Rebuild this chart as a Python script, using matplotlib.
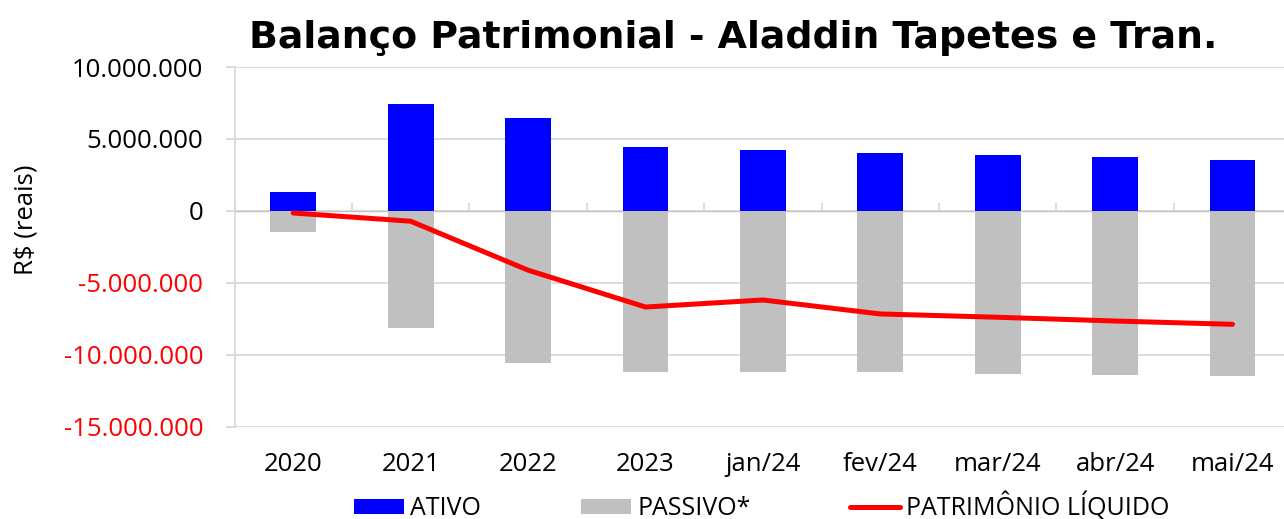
import numpy as np
import matplotlib.pyplot as plt
from matplotlib.ticker import FuncFormatter, MultipleLocator

periodos = ["2020", "2021", "2022", "2023", "jan/24", "fev/24", "mar/24", "abr/24", "mai/24"]
ativo = [1.30e6, 7.41e6, 6.47e6, 4.46e6, 4.25e6, 4.04e6, 3.90e6, 3.72e6, 3.53e6]
passivo = [-1.47e6, -8.10e6, -10.55e6, -11.15e6, -11.19e6, -11.19e6, -11.31e6, -11.38e6, -11.45e6]
patrimonio = [-0.14e6, -0.71e6, -4.11e6, -6.67e6, -6.18e6, -7.15e6, -7.38e6, -7.64e6, -7.87e6]

grid_cor = "#d9d9d9"
fonte = ["Open Sans", "DejaVu Sans"]
plt.rcParams["font.family"] = fonte

fig = plt.figure(figsize=(12.84, 5.19), dpi=100)
ax = fig.add_axes([0.1827, 0.1773, 0.8229, 0.6936])

x = np.arange(len(periodos))
b1 = ax.bar(x, ativo, width=0.39, color="#0000ff", label="ATIVO", zorder=2)
b2 = ax.bar(x, passivo, width=0.39, color="#c0c0c0", label="PASSIVO*", zorder=2)
l1, = ax.plot(x, patrimonio, color="#ff0000", lw=3.6, solid_capstyle="round",
              solid_joinstyle="round", label="PATRIMÔNIO LÍQUIDO", zorder=3)

ax.set_xlim(-0.5, len(periodos) - 0.5)
ax.set_ylim(-15e6, 10e6)
ax.yaxis.set_major_locator(MultipleLocator(5e6))
ax.yaxis.set_major_formatter(FuncFormatter(lambda v, p: f"{v:,.0f}".replace(",", ".")))
ax.grid(axis="y", color=grid_cor, lw=1.3, zorder=0)
ax.set_axisbelow(True)

for s in ["top", "right", "bottom"]:
    ax.spines[s].set_visible(False)
ax.spines["left"].set_color(grid_cor)
ax.spines["left"].set_linewidth(1.3)

ax.tick_params(axis="y", colors=grid_cor, length=6.5, width=1.3, pad=16,
               labelsize=18.5, labelcolor="black")
for lab, v in zip(ax.get_yticklabels(), ax.get_yticks()):
    if v < 0:
        lab.set_color("#ff0000")

ax.set_xticks(x)
ax.set_xticklabels(periodos)
ax.tick_params(axis="x", length=0, pad=18, labelsize=18.5)

# eixo de categorias na linha do zero, com marcas entre as categorias
zero = ax.secondary_xaxis(15 / 25)
zero.set_xticks(np.arange(len(periodos) + 1) - 0.5)
zero.tick_params(axis="x", direction="out", length=6, width=1.3, colors=grid_cor,
                 labelbottom=False, labeltop=False)
zero.spines["bottom"].set_color(grid_cor)
zero.spines["bottom"].set_linewidth(1.3)

fig.text(26 / 1284, 1 - 220 / 519, "R$ (reais)", rotation=90, ha="center", va="center",
         fontsize=18.5)
fig.text(733 / 1284, 1 - 48 / 519, "Balanço Patrimonial - Aladdin Tapetes e Tran.",
         ha="center", va="baseline", fontsize=27.3, fontweight="bold",
         family=["DejaVu Sans"])

fig.legend(handles=[b1, b2, l1], loc="center", bbox_to_anchor=(762 / 1284, 1 - 507 / 519),
           ncol=3, frameon=False, fontsize=18, handlelength=2.0, handleheight=0.6,
           handletextpad=0.24, columnspacing=4.0, borderaxespad=0, borderpad=0)

fig.savefig("out.png", dpi=100)
